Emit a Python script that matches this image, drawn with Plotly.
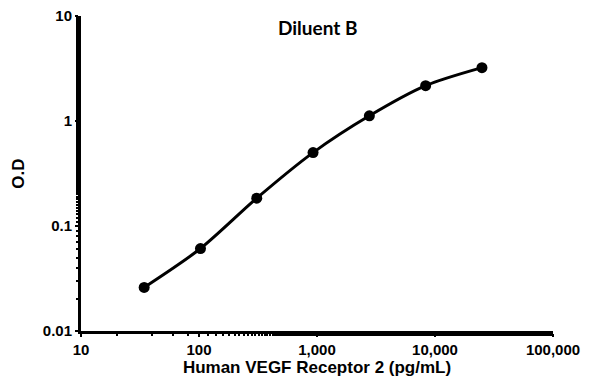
import plotly.graph_objects as go

concentration = [34.3, 102.9, 308.6, 925.9, 2778, 8333, 25000]
od = [0.026, 0.061, 0.184, 0.50, 1.12, 2.17, 3.22]

x_tickvals = [10, 100, 1000, 10000, 100000]
x_ticktext = ["10", "100", "1,000", "10,000", "100,000"]
y_tickvals = [0.01, 0.1, 1, 10]
y_ticktext = ["0.01", "0.1", "1", "10"]

fig = go.Figure()
fig.add_trace(go.Scatter(
    x=concentration, y=od, mode="lines+markers",
    line=dict(color="black", width=3, shape="spline", smoothing=0.8),
    marker=dict(color="black", size=11),
    showlegend=False,
))

tick_font = dict(family="Arial, Liberation Sans", size=15, color="black", weight="bold")
title_font = dict(family="Arial, Liberation Sans", size=17, color="black", weight="bold")
fig.update_layout(
    width=588, height=384,
    margin=dict(l=73, r=43, t=8, b=61),
    paper_bgcolor="white", plot_bgcolor="white",
    annotations=[dict(
        text="Diluent B", x=0.5, y=0.965, xref="paper", yref="paper",
        showarrow=False, xanchor="center", yanchor="middle",
        font=dict(family="Lato, Open Sans", size=19, color="black", weight="bold"),
    )],
)
fig.update_xaxes(
    type="log", range=[1, 5], automargin=False,
    tickvals=x_tickvals, ticktext=x_ticktext, tickfont=tick_font,
    ticklabeloverflow="allow",
    showline=True, linecolor="black", linewidth=3,
    ticks="outside", ticklen=3, tickwidth=2, tickcolor="black",
    minor=dict(ticks="outside", ticklen=2, tickwidth=1.5, tickcolor="black", showgrid=False),
    showgrid=False, zeroline=False,
    title=dict(text="Human VEGF Receptor 2 (pg/mL)", font=title_font, standoff=4),
)
fig.update_yaxes(
    type="log", range=[-2, 1], automargin=False,
    tickvals=y_tickvals, ticktext=y_ticktext, tickfont=tick_font,
    ticklabeloverflow="allow",
    showline=True, linecolor="black", linewidth=3,
    ticks="outside", ticklen=3, tickwidth=2, tickcolor="black",
    minor=dict(ticks="outside", ticklen=2, tickwidth=1.5, tickcolor="black", showgrid=False),
    showgrid=False, zeroline=False,
    title=dict(text="O.D", font=title_font, standoff=14),
)

fig.write_html("out.html")
